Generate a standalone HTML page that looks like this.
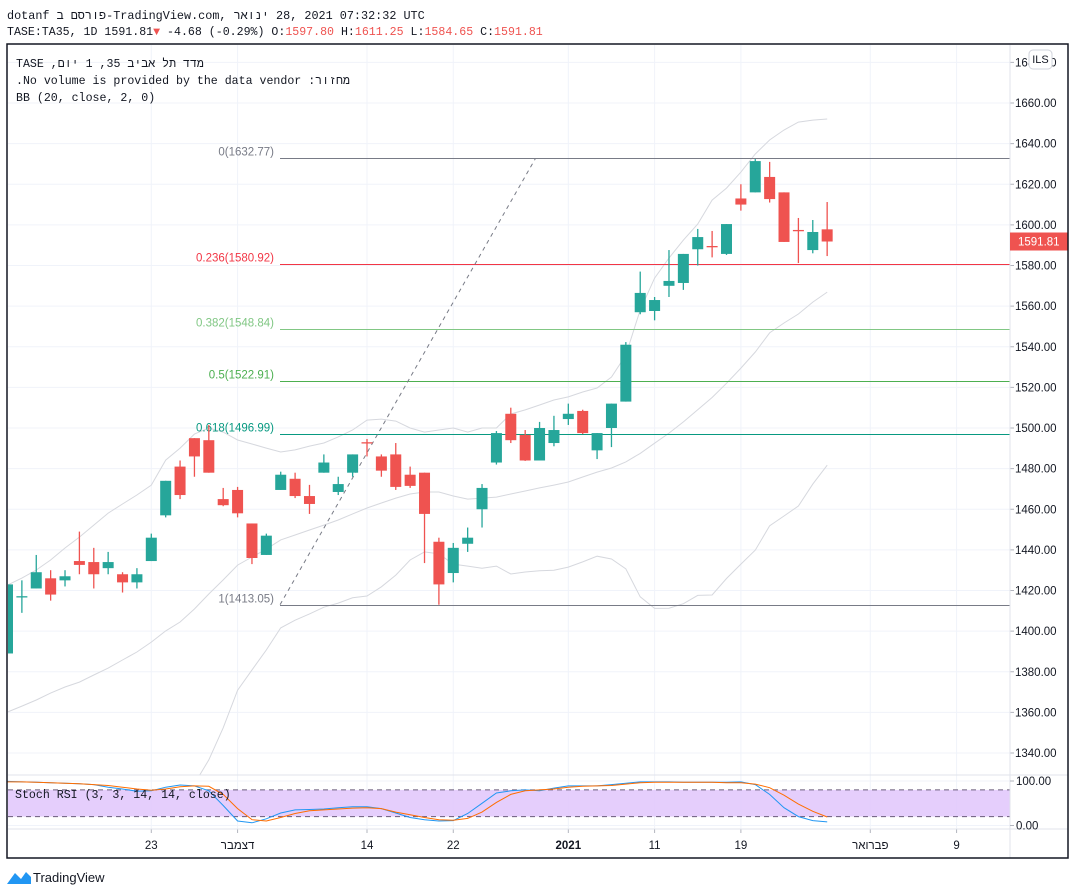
<!DOCTYPE html>
<html><head><meta charset="utf-8">
<style>
html,body{margin:0;padding:0;background:#fff;width:1075px;height:895px;overflow:hidden}
svg{display:block}
text{font-family:"Liberation Sans","Noto Sans CJK JP",sans-serif}
.mono{font-family:"Liberation Mono","DejaVu Sans Mono",monospace}
</style></head>
<body>
<svg id="chart" width="1075" height="895" viewBox="0 0 1075 895" xmlns="http://www.w3.org/2000/svg">
<g id="grid"></g>
<g id="bands"></g>
<g id="fib"></g>
<g id="candles"></g>
<g id="stoch"></g>
<g id="axes"></g>
<text x="7" y="19" font-size="11.8" fill="#131722" class="mono">dotanf פורסם ב&#x200E;-TradingView.com, ינואר&#x200E; 28, 2021 07:32:32 UTC</text>
<text x="7" y="35" font-size="11.6" class="mono"><tspan fill="#131722">TASE:TA35, 1D 1591.81</tspan><tspan fill="#ef5350">▼</tspan><tspan fill="#131722"> -4.68 (-0.29%) O:</tspan><tspan fill="#ef5350">1597.80</tspan><tspan fill="#131722"> H:</tspan><tspan fill="#ef5350">1611.25</tspan><tspan fill="#131722"> L:</tspan><tspan fill="#ef5350">1584.65</tspan><tspan fill="#131722"> C:</tspan><tspan fill="#ef5350">1591.81</tspan></text>
<rect x="7" y="44" width="1061" height="814" fill="none" stroke="#131722" stroke-width="1.5"/>
<text x="16" y="67" font-size="11.6" fill="#131722" class="mono">TASE ,מדד תל אביב 35, 1 יום</text>
<text x="16" y="84" font-size="11.6" fill="#131722" class="mono">.No volume is provided by the data vendor :מחזור</text>
<text x="16" y="101" font-size="11.6" fill="#131722" class="mono">BB (20, close, 2, 0)</text>
<rect x="1029" y="50" width="23" height="19" rx="4" fill="#fff" stroke="#d1d4dc"/>
<text x="1040.5" y="63" font-size="11" fill="#131722" text-anchor="middle">ILS</text>
<g>
<path d="M7 884 L15 873 L21 879 L26 872 L31 877 L31 884 Z" fill="#2196f3"/>
<text x="33" y="882" font-size="13" fill="#131722">TradingView</text>
</g>
</svg>
<script>
// ---- data ----
const opens  = [1389,1417,1421,1426,1425,1434.5,1434,1431,1428,1424,1434.5,1457,1481,1495,1494,1465,1469.5,1453,1437.5,1469.5,1475,1466.5,1478,1468.5,1478,1493,1486,1487,1477,1478,1444,1428.6,1443,1460,1483,1507,1496.6,1484,1492.6,1504.4,1508.4,1489,1500,1513,1557,1557.6,1570,1571.4,1588,1589.6,1585.7,1613,1616,1623.6,1616,1597.5,1587.6,1597.8];
const highs  = [1423,1425,1437.5,1430,1430,1449,1441,1439,1429,1431,1448,1474,1484,1495,1501.5,1470.5,1471,1453,1448,1478.5,1478,1472,1487,1476,1487,1494.6,1487,1492.6,1481,1478,1446,1443.4,1451,1472.4,1498.5,1510,1499,1503,1506,1512,1509,1497.5,1512,1542.3,1577,1564.5,1587.6,1585.7,1598,1597,1600.4,1620,1632.4,1631,1616,1603.4,1602.4,1611.25];
const lows   = [1389,1409,1421,1415,1422,1428,1421,1428,1419,1421,1434.5,1456,1465,1476,1478,1461.5,1456,1433,1437.5,1469.5,1465.5,1457.7,1478,1467,1476,1486,1476,1469.5,1470.5,1433.5,1413,1424,1439,1451,1482,1492.6,1483.8,1484,1491,1501.5,1497,1484.7,1490.6,1513,1556,1553,1564.5,1568,1580,1584,1585.2,1607,1616,1611,1591.6,1581.2,1586,1584.65];
const closes = [1423,1417.2,1429,1418,1427,1432.6,1428,1434,1424,1428,1446,1474,1467,1486,1478,1462,1458,1436,1447,1477,1466.5,1462.6,1483,1472.4,1487,1492.6,1479,1471,1471.5,1457.7,1423,1441,1446,1470.5,1497.5,1494,1484,1500,1499,1507,1497.5,1497.5,1512,1541,1566.5,1563,1572.4,1585.7,1594,1589.4,1600.4,1610,1631.4,1612.7,1591.6,1597.2,1596.5,1591.81];
const bbUpper = [1422.7,1426.1,1430.1,1435,1440.9,1446.3,1452.2,1458.1,1462.6,1467,1471.9,1484.2,1490.1,1497,1500,1498,1494.1,1492.1,1490.1,1488.2,1489.2,1491.1,1492.6,1495.6,1499,1503.9,1504.4,1503.4,1500,1498,1499,1500,1498,1500,1500,1506.9,1508.9,1511.3,1513.8,1515.3,1517.7,1519.7,1525.1,1535.9,1558.1,1573.8,1583.7,1592.5,1600.4,1612.2,1618.1,1626,1634.9,1641.8,1646.7,1650.6,1651.6,1652.1];
const bbBasis = [1360.2,1363.1,1366.1,1369.5,1372.5,1374.9,1378.4,1381.8,1385.8,1389.7,1394.6,1400.1,1404.5,1410.9,1418.3,1425.2,1432.5,1436.5,1440.4,1444.9,1447.3,1449.8,1452.2,1454.7,1457.7,1460.6,1463.1,1465.5,1467.5,1468.5,1468.5,1466.5,1465,1465.5,1466,1467.5,1469,1470.5,1471.9,1473.4,1475.9,1478.3,1480.3,1483.3,1487.5,1492.5,1497.5,1503,1509,1515,1522,1529.5,1537.4,1546.8,1551.7,1556.1,1562,1566.9];
const stochK = [99,98,97,96,95,94,92,86,82,77,78,86,91,89,78,45,10,6,15,28,35,36,37,40,42,42,38,28,18,13,10,11,27,50,73,78,80,78,84,89,89,89,92,95,98,98,98,97,97,97,97,98,92,70,40,20,11,8];
const stochD = [98,98,97,96,95,94,92,90,86,82,79,82,87,89,88,70,38,13,10,18,27,33,35,37,39,40,38,30,24,18,13,12,16,30,52,70,78,80,82,86,88,89,90,93,96,97,97,97,97,97,96,96,93,85,68,48,32,19];
const priceTicks = [1340,1360,1380,1400,1420,1440,1460,1480,1500,1520,1540,1560,1580,1600,1620,1640,1660,1680];
const timeLabels = ["23","דצמבר","14","22","2021","11","19","פברואר","9"];
const timeLabelBars = [10,16,25,31,39,45,51,60,66];
const fibLevels = [0,0.236,0.382,0.5,0.618,1];
const fibPrices = [1632.77,1580.92,1548.84,1522.91,1496.99,1413.05];
const fibColors = ["#787b86","#f23645","#81c784","#4caf50","#089981","#787b86"];
const trendStart = [20, 1413.05];
const trendEnd = [37, 1632.77];
const lastPrice = 1591.81;

// ---- scales ----
const NS='http://www.w3.org/2000/svg';
const X0=7.5, STEP=14.38, BODY=10;
const PLOT_L=8, PLOT_R=1010, PANE_TOP=45, PANE_BOT=775;
function xAt(i){return X0+STEP*i;}
function yP(p){return 103+(1660-p)*2.03125;}
function yS(v){return 825.5-0.445*v;}
function mk(tag,attrs,parent){const e=document.createElementNS(NS,tag);for(const k in attrs)e.setAttribute(k,attrs[k]);parent.appendChild(e);return e;}
const gGrid=document.getElementById('grid'),gBands=document.getElementById('bands'),gFib=document.getElementById('fib'),gC=document.getElementById('candles'),gS=document.getElementById('stoch'),gA=document.getElementById('axes');

const defs=mk('defs',{},document.getElementById('chart'));
const cp=mk('clipPath',{id:'mainclip'},defs);
mk('rect',{x:PLOT_L,y:PANE_TOP,width:PLOT_R-PLOT_L,height:PANE_BOT-PANE_TOP},cp);
gBands.setAttribute('clip-path','url(#mainclip)');
gC.setAttribute('clip-path','url(#mainclip)');

priceTicks.forEach(p=>{const y=yP(p);if(y<PANE_TOP||y>PANE_BOT)return;
  const l=mk('line',{x1:PLOT_L,x2:PLOT_R,y1:y,y2:y,stroke:'#f0f3fa','stroke-width':1},gGrid);
  
  
  mk('line',{x1:PLOT_R,x2:PLOT_R+4,y1:y,y2:y,stroke:'#b2b5be'},gA);
  const tx=mk('text',{x:1015,y:y+4,'font-size':11.5,fill:'#131722'},gA);tx.textContent=p.toFixed(2);
  
  
});
timeLabelBars.forEach((b,k)=>{const x=xAt(b);
  const l=mk('line',{x1:x,x2:x,y1:PANE_TOP,y2:829,stroke:'#f0f3fa'},gGrid);
  
  
  mk('line',{x1:x,x2:x,y1:829,y2:833,stroke:'#b2b5be'},gA);
  const t=mk('text',{x:x,y:849,'font-size':11.5,fill:'#131722','text-anchor':'middle','font-weight':timeLabels[k]==='2021'?'bold':'normal'},gA);
  t.textContent=timeLabels[k];
  
  
});
mk('line',{x1:PLOT_R,x2:PLOT_R,y1:PANE_TOP,y2:858,stroke:'#e0e3eb'},gA);
mk('line',{x1:PLOT_L,x2:1068,y1:PANE_BOT,y2:PANE_BOT,stroke:'#e0e3eb'},gA);
mk('line',{x1:PLOT_L,x2:1068,y1:829,y2:829,stroke:'#e0e3eb'},gA);

function poly(arr,parent,stroke){let d='';arr.forEach((v,i)=>{d+=(i?'L':'M')+xAt(i).toFixed(1)+' '+yP(v).toFixed(1);});
  return mk('path',{d:d,fill:'none',stroke:stroke,'stroke-width':1},parent);}
const up=poly(bbUpper,gBands,'#d6d8de');


const bs=poly(bbBasis,gBands,'#d6d8de');


const lowerArr=bbBasis.map((m,i)=>2*m-bbUpper[i]);
const lo=poly(lowerArr,gBands,'#d6d8de');



fibPrices.forEach((p,k)=>{const y=Math.round(yP(p))+0.5;
  const l=mk('line',{x1:280,x2:PLOT_R,y1:y,y2:y,stroke:fibColors[k],'stroke-width':1},gFib);
  
  
  const t=mk('text',{x:274,y:y-3,'font-size':11.5,fill:fibColors[k],'text-anchor':'end'},gFib);
  t.textContent=fibLevels[k]+'('+p.toFixed(2)+')';
  
  
});
const tl=mk('line',{x1:xAt(trendStart[0])-15,y1:yP(trendStart[1]),x2:xAt(trendEnd[0])-4,y2:yP(trendEnd[1]),stroke:'#787b86','stroke-dasharray':'4 4'},gFib);



opens.forEach((o,i)=>{const c=closes[i],isUp=c>=o,col=isUp?'#26a69a':'#ef5350',x=xAt(i);
  const g=mk('g',{},gC);
  
  
  mk('line',{x1:x,x2:x,y1:yP(highs[i]),y2:yP(lows[i]),stroke:col,'stroke-width':1.3},g);
  const t=Math.min(yP(o),yP(c)),h=Math.max(1.3,Math.abs(yP(o)-yP(c)));
  mk('rect',{x:x-BODY/2-0.5,y:t,width:BODY+1,height:h,fill:col},g);
});

const ly=yP(lastPrice);
const lp=mk('rect',{x:PLOT_R,y:ly-9,width:58,height:18,fill:'#ef5350'},gA);


const lt=mk('text',{x:1018,y:ly+4,'font-size':11.5,fill:'#fff'},gA);lt.textContent=lastPrice.toFixed(2);



const band=mk('rect',{x:PLOT_L,y:yS(80),width:PLOT_R-PLOT_L,height:yS(20)-yS(80),fill:'#e1c6fc',opacity:0.85},gS);


[80,20].forEach(v=>{const l=mk('line',{x1:PLOT_L,x2:PLOT_R,y1:yS(v),y2:yS(v),stroke:'#6a5c7a','stroke-dasharray':'5 4'},gS);
  
  });
[100,0].forEach(v=>{const y=yS(v);mk('line',{x1:PLOT_L,x2:PLOT_R,y1:y,y2:y,stroke:'#f0f3fa'},gGrid);
  mk('line',{x1:PLOT_R,x2:PLOT_R+4,y1:y,y2:y,stroke:'#b2b5be'},gA);
  const t=mk('text',{x:1016,y:y+4,'font-size':11.5,fill:'#131722'},gA);t.textContent=v.toFixed(2);
  
  });
function spoly(arr,col){let d='';arr.forEach((v,i)=>{d+=(i?'L':'M')+xAt(i).toFixed(1)+' '+yS(v).toFixed(1);});return mk('path',{d:d,fill:'none',stroke:col,'stroke-width':1},gS);}
const kl=spoly(stochK,'#2196f3');


const dl=spoly(stochD,'#ff6d00');


const st=mk('text',{x:15,y:798,'font-size':11.6,fill:'#131722',class:'mono'},gS);st.textContent='Stoch RSI (3, 3, 14, 14, close)';


</script>
</body></html>
